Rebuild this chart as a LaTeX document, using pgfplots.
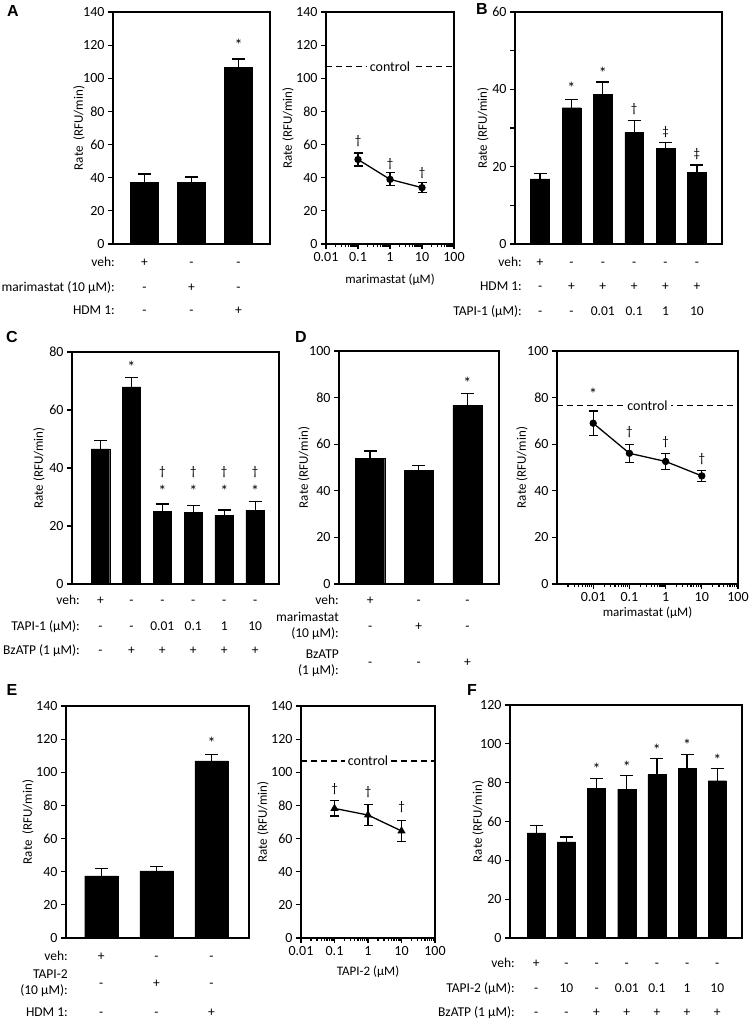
\documentclass[border=0pt]{standalone}
\usepackage{pgfplots}
\pgfplotsset{compat=1.18}
\usepackage{fontspec}
\setmainfont{Carlito}
\newfontfamily\panelfont{Liberation Sans}
\newcommand\tfont{\fontsize{14}{16}\selectfont}
\newcommand\rfont{\fontsize{13.5}{16}\selectfont}
\newcommand\lfont{\fontsize{13}{15}\selectfont}
\newcommand\afont{\fontsize{13}{15}\selectfont}
\newcommand\sfont{\fontsize{16}{18}\selectfont}
\newcommand\pfont{\panelfont\bfseries\fontsize{16}{18}\selectfont}

\newcommand\symrow[2]{%
  \foreach \s [count=\i from 0] in {#2}{%
    \edef\tmp{\noexpand\node[font=\noexpand\rfont, inner sep=0pt, anchor=base, yshift=-#1pt] at (axis cs:\i,0) {\s};}\tmp}}
\newcommand\rowlab[3]{\node[font=\rfont, inner sep=0pt, anchor=base east, xshift=#1pt, yshift=-#2pt] at (rel axis cs:0,0) {#3};}
\newcommand\rowlabb[3]{\node[font=\rfont, inner sep=0pt, anchor=east, align=right, xshift=#1pt, yshift=-#2pt] at (rel axis cs:0,0) {#3};}
\newcommand\ann[3]{\node[font=\afont, inner sep=0pt] at (axis cs:#1,#2) {#3};}
\newcommand\astk[2]{\node[font=\sfont, inner sep=0pt] at (axis cs:#1,#2) {*};}

\pgfplotsset{
  mybase/.style={scale only axis, anchor=south west, clip=false,
    axis line style={line width=1.3pt},
    every tick/.style={black, line width=1.2pt},
    major tick length=5pt, minor tick length=3pt,
    tick align=outside, ytick pos=left,
    ymin=0,
    tick label style={font=\tfont},
    /pgf/number format/assume math mode=true,
    ylabel style={font=\lfont, anchor=center},
    xlabel style={font=\lfont, anchor=center},
  },
  ylshift/.style={ylabel style={at={([xshift=-#1pt]axis description cs:0,0.5)}}},
  xlshift/.style={xlabel style={at={([yshift=-#1pt]axis description cs:0.5,0)}}},
  mybar/.style={mybase, ybar, bar width=0.6, xtick=\empty},
  mylog/.style={mybase, xtick pos=bottom,
    xtick={0.01,0.1,1,10,100}, xticklabels={0.01,0.1,1,10,100},
    minor xtick={0.002,0.003,0.004,0.005,0.006,0.007,0.008,0.009,0.02,0.03,0.04,0.05,0.06,0.07,0.08,0.09,0.2,0.3,0.4,0.5,0.6,0.7,0.8,0.9,2,3,4,5,6,7,8,9,20,30,40,50,60,70,80,90}},
  barplot/.style={fill=black, draw=black,
    error bars/y dir=plus, error bars/y explicit,
    error bars/error bar style={line width=1.3pt, black},
    error bars/error mark options={rotate=90, mark size=6.5pt, line width=1.3pt, black}},
  lineplot/.style={black, line width=1.3pt, mark options={solid},
    error bars/y dir=both, error bars/y explicit,
    error bars/error bar style={line width=1.3pt, black},
    error bars/error mark options={rotate=90, mark size=4.5pt, line width=1.3pt, black}},
  ctrl/.style={black, line width=1.3pt, dash pattern=on 6pt off 4pt},
}

\begin{document}
\begin{tikzpicture}
\path (0,0) rectangle (748pt,-1020pt);

% ---------- A left
\begin{axis}[mybar, at={(113pt,-244pt)}, width=157pt, height=232pt,
  xmin=-0.67, xmax=2.67, ymax=140, ytick={0,20,...,140},
  ylabel={Rate\ \ (RFU/min)}, ylshift=34]
\addplot[barplot] table[x=x,y=y,y error=e]{
x y e
0 37.4 4.8
1 37.4 3.0
2 106.8 4.8
};
\astk{2}{120}
\symrow{22}{+,-,-}
\symrow{47}{-,+,-}
\symrow{70}{-,-,+}
\rowlab{2}{22}{veh:}
\rowlab{2}{47}{marimastat (10 μM):}
\rowlab{2}{70}{HDM 1:}
\end{axis}

% ---------- A right
\begin{axis}[xmode=log, mylog, at={(326pt,-244pt)}, width=128pt, height=232pt,
  xmin=0.01, xmax=100, ymax=140, ytick={0,20,...,140},
  ylabel={Rate (RFU/min)}, ylshift=38, xlabel={marimastat (μM)}, xlshift=36]
\addplot[ctrl] coordinates {(0.01,107) (100,107)};
\node[font=\tfont, fill=white, inner sep=3pt] at (axis cs:1,107) {control};
\addplot[lineplot, mark=*, mark size=3pt] table[x=x,y=y,y error plus=ep,y error minus=em]{
x y ep em
0.1 51 4 4
1 39 4 3.5
10 34 3 3
};
\ann{0.1}{62}{†}
\ann{1}{48}{†}
\ann{10}{43}{†}
\end{axis}

% ---------- B
\begin{axis}[mybar, at={(515pt,-244pt)}, width=207pt, height=232pt,
  xmin=-0.8, xmax=5.8, ymax=60, ytick={0,20,40,60}, minor ytick={10,30,50},
  minor tick length=5pt,
  ylabel={Rate (RFU/min)}, ylshift=32]
\addplot[barplot] table[x=x,y=y,y error=e]{
x y e
0 16.85 1.35
1 35.25 2.05
2 38.7 3.2
3 28.9 3.0
4 24.8 1.4
5 18.6 1.8
};
\astk{1}{40.5}
\astk{2}{44.4}
\ann{3}{35}{†}
\ann{4}{29}{‡}
\ann{5}{23.3}{‡}
\symrow{22}{+,-,-,-,-,-}
\symrow{46}{-,+,+,+,+,+}
\symrow{71}{-,-,0.01,0.1,1,10}
\rowlab{7}{22}{veh:}
\rowlab{7}{46}{HDM 1:}
\rowlab{7}{71}{TAPI-1 (μM):}
\end{axis}

% ---------- C
\begin{axis}[mybar, at={(72pt,-584pt)}, width=207pt, height=232pt,
  xmin=-0.92, xmax=5.77, ymax=80, ytick={0,20,...,80},
  ylabel={Rate (RFU/min)}, ylshift=33]
\addplot[barplot] table[x=x,y=y,y error=e]{
x y e
0 46.6 2.9
1 68.0 3.2
2 25.1 2.5
3 24.8 2.3
4 23.7 1.8
5 25.5 2.9
};
\astk{1}{75}
\astk{2}{32.2}\ann{2}{38.7}{†}
\astk{3}{32.2}\ann{3}{38.7}{†}
\astk{4}{32.2}\ann{4}{38.7}{†}
\astk{5}{32.2}\ann{5}{38.7}{†}
\symrow{20}{+,-,-,-,-,-}
\symrow{46}{-,-,0.01,0.1,1,10}
\symrow{70}{-,+,+,+,+,+}
\rowlab{8}{20}{veh:}
\rowlab{8}{46}{TAPI-1 (μM):}
\rowlab{8}{70}{BzATP (1 μM):}
\end{axis}

% ---------- D left
\begin{axis}[mybar, at={(339pt,-584pt)}, width=160pt, height=233pt,
  xmin=-0.64, xmax=2.65, ymax=100, ytick={0,20,...,100},
  ylabel={Rate (RFU/min)}, ylshift=35]
\addplot[barplot] table[x=x,y=y,y error=e]{
x y e
0 54.0 3.1
1 48.9 2.1
2 76.7 5.0
};
\astk{2}{86.3}
\symrow{20}{+,-,-}
\symrow{46}{-,+,-}
\symrow{82}{-,-,+}
\rowlab{0}{20}{veh:}
\rowlabb{0}{42}{marimastat\\(10 μM):}
\rowlabb{0}{79}{BzATP\\(1 μM):}
\end{axis}

% ---------- D right
\begin{axis}[xmode=log, mylog, at={(557pt,-584pt)}, width=181pt, height=233pt,
  xmin=0.001, xmax=100, ymax=100, ytick={0,20,...,100},
  ylabel={Rate (RFU/min)}, ylshift=35, xlabel={marimastat (μM)}, xlshift=29]
\addplot[ctrl] coordinates {(0.001,76.7) (100,76.7)};
\node[font=\tfont, fill=white, inner sep=3pt] at (axis cs:0.316,76.7) {control};
\addplot[lineplot, mark=*, mark size=3pt] table[x=x,y=y,y error plus=ep,y error minus=em]{
x y ep em
0.01 69.0 5.3 5.4
0.1 56.1 3.9 3.9
1 52.6 3.5 3.5
10 46.4 2.3 2.3
};
\astk{0.01}{81.5}
\ann{0.1}{65}{†}
\ann{1}{60.7}{†}
\ann{10}{53.7}{†}
\end{axis}

% ---------- E left
\begin{axis}[mybar, at={(66pt,-938pt)}, width=183pt, height=232pt,
  xmin=-0.64, xmax=2.68, ymax=140, ytick={0,20,...,140},
  ylabel={Rate\ \ (RFU/min)}, ylshift=38]
\addplot[barplot] table[x=x,y=y,y error=e]{
x y e
0 37.5 4.4
1 40.5 2.6
2 106.9 4.0
};
\astk{2}{118}
\symrow{22}{+,-,-}
\symrow{49}{-,+,-}
\symrow{78}{-,-,+}
\rowlab{2}{22}{veh:}
\rowlabb{2}{45}{TAPI-2\\(10 μM):}
\rowlab{2}{78}{HDM 1:}
\end{axis}

% ---------- E right
\begin{axis}[xmode=log, mylog, at={(301pt,-938pt)}, width=134pt, height=232pt,
  xmin=0.01, xmax=100, ymax=140, ytick={0,20,...,140},
  ylabel={Rate (RFU/min)}, ylshift=38, xlabel={TAPI-2 (μM)}, xlshift=34]
\addplot[ctrl] coordinates {(0.01,106.9) (100,106.9)};
\node[font=\tfont, fill=white, inner sep=3pt] at (axis cs:1,106.9) {control};
\addplot[lineplot, mark=triangle*, mark size=3.5pt] table[x=x,y=y,y error plus=ep,y error minus=em]{
x y ep em
0.1 78.2 4.8 4.6
1 74.2 6.4 6.4
10 64.6 6.4 6.4
};
\ann{0.1}{90}{†}
\ann{1}{87.8}{†}
\ann{10}{78.8}{†}
\end{axis}

% ---------- F
\begin{axis}[mybar, at={(510pt,-938pt)}, width=232pt, height=233pt,
  xmin=-0.87, xmax=6.82, ymax=120, ytick={0,20,...,120},
  ylabel={Rate (RFU/min)}, ylshift=32]
\addplot[barplot] table[x=x,y=y,y error=e]{
x y e
0 54.2 3.6
1 49.5 2.6
2 77.2 5.0
3 76.7 7.0
4 84.2 8.1
5 87.3 7.2
6 81.0 6.2
};
\astk{2}{86.9}
\astk{3}{88.3}
\astk{4}{97.1}
\astk{5}{99.3}
\astk{6}{91.9}
\symrow{29}{+,-,-,-,-,-,-}
\symrow{54}{-,10,-,0.01,0.1,1,10}
\symrow{78}{-,-,+,+,+,+,+}
\rowlab{5}{29}{veh:}
\rowlab{5}{54}{TAPI-2 (μM):}
\rowlab{5}{78}{BzATP (1 μM):}
\end{axis}

% panel letters
\node[font=\pfont] at (13pt,-10.5pt) {A};
\node[font=\pfont] at (482pt,-9pt) {B};
\node[font=\pfont] at (12pt,-337pt) {C};
\node[font=\pfont] at (301pt,-337pt) {D};
\node[font=\pfont] at (12pt,-690pt) {E};
\node[font=\pfont] at (472pt,-690pt) {F};

\pgfresetboundingbox
\path (0,0) rectangle (748pt,-1020pt);
\end{tikzpicture}
\end{document}
